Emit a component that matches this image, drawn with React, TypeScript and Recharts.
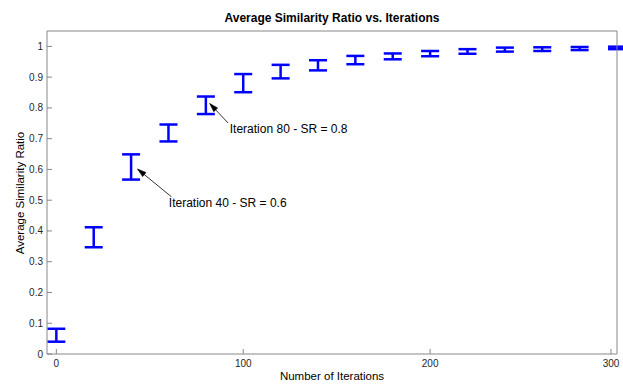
import { ScatterChart, Scatter, XAxis, YAxis, ErrorBar, ReferenceLine, ReferenceDot } from 'recharts'

const ITERATIONS = [0, 20, 40, 60, 80, 100, 120, 140, 160, 180, 200, 220, 240, 260, 280, 300]
const SR_LOW = [0.040, 0.347, 0.567, 0.691, 0.780, 0.851, 0.896, 0.922, 0.942, 0.958, 0.968, 0.976, 0.983, 0.985, 0.988, 0.991]
const SR_HIGH = [0.082, 0.412, 0.649, 0.746, 0.837, 0.910, 0.940, 0.955, 0.969, 0.977, 0.985, 0.991, 0.996, 0.997, 0.998, 0.999]

const X_TICKS = [0, 100, 200, 300]
const Y_TICKS = [0, 0.1, 0.2, 0.3, 0.4, 0.5, 0.6, 0.7, 0.8, 0.9, 1]

// annotations, in data units
const NOTE_LABELS = ['Iteration 40 - SR = 0.6', 'Iteration 80 - SR = 0.8']
const NOTE_TIP = [{ x: 43.5, y: 0.601 }, { x: 82.1, y: 0.814 }]
const NOTE_TAIL = [{ x: 61.6, y: 0.511 }, { x: 91.9, y: 0.751 }]
const NOTE_TEXT = [{ x: 60.2, y: 0.49 }, { x: 92.8, y: 0.7305 }]

const BLUE = '#0000ff'
const AXIS = '#888888'
const INK = '#262626'
const FONT = '"Liberation Sans", Arial, sans-serif'

const W = 623
const H = 385

const data = ITERATIONS.map((it, i) => {
  const mid = (SR_LOW[i] + SR_HIGH[i]) / 2
  return { it, sr: mid, err: [mid - SR_LOW[i], SR_HIGH[i] - mid] }
})

const LeftTick = (props: any) => {
  const { x, y, payload } = props
  return (
    <g>
      <line x1={x + 4} x2={x + 9} y1={y} y2={y} stroke={AXIS} />
      <text x={x} y={y} dy="0.35em" textAnchor="end" fontSize={10} fontFamily={FONT} fill={INK}>
        {String(payload.value)}
      </text>
    </g>
  )
}

const BottomTick = (props: any) => {
  const { x, y, payload } = props
  return (
    <g>
      <line x1={x} x2={x} y1={y - 6} y2={y - 11} stroke={AXIS} />
      <text x={x} y={y} dy="0.71em" textAnchor="middle" fontSize={10} fontFamily={FONT} fill={INK}>
        {String(payload.value)}
      </text>
    </g>
  )
}

const Arrow = (props: any) => {
  const { x1, y1, x2, y2 } = props
  const a = Math.atan2(y2 - y1, x2 - x1)
  const len = 9
  const spread = 0.3
  const p1 = [x2 - len * Math.cos(a - spread), y2 - len * Math.sin(a - spread)]
  const p2 = [x2 - len * Math.cos(a + spread), y2 - len * Math.sin(a + spread)]
  return (
    <g>
      <line x1={x1} y1={y1} x2={x2} y2={y2} stroke="#000" strokeWidth={0.8} />
      <path d={`M${x2},${y2} L${p1[0]},${p1[1]} L${p2[0]},${p2[1]} Z`} fill="#000" stroke="#000" strokeWidth={0.6} />
    </g>
  )
}

export default function App() {
  return (
    <div style={{ position: 'absolute', left: 0, top: 0, width: W, height: H, background: '#fff', fontFamily: FONT }}>
      <div style={{ position: 'absolute', left: 47, width: 570, top: 11, textAlign: 'center', fontSize: 12, fontWeight: 'bold', lineHeight: '14px', color: '#000' }}>
        Average Similarity Ratio vs. Iterations
      </div>
      <div style={{ position: 'absolute', left: 47, width: 570, top: 369, textAlign: 'center', fontSize: 11.5, lineHeight: '14px', color: '#000' }}>
        Number of Iterations
      </div>
      <div style={{ position: 'absolute', left: 20, top: 193, width: 0, height: 0 }}>
        <div style={{ position: 'absolute', left: -100, top: -7, width: 200, textAlign: 'center', transform: 'rotate(-90deg)', fontSize: 11.5, lineHeight: '14px', color: '#000', whiteSpace: 'nowrap' }}>
          Average Similarity Ratio
        </div>
      </div>
      <ScatterChart width={W} height={H} margin={{ top: 31, right: 6, bottom: 0, left: 0 }}>
        <XAxis
          xAxisId="b"
          type="number"
          dataKey="it"
          domain={[-5, 300]}
          ticks={X_TICKS}
          height={31}
          tickSize={0}
          tickMargin={6}
          tickLine={false}
          tick={BottomTick}
          stroke={AXIS}
          allowDataOverflow
        />
        <XAxis
          xAxisId="t"
          orientation="top"
          type="number"
          domain={[-5, 300]}
          ticks={X_TICKS}
          mirror
          tick={false}
          tickSize={5}
          stroke={AXIS}
          allowDataOverflow
        />
        <YAxis
          yAxisId="l"
          type="number"
          dataKey="sr"
          domain={[0, 1.05]}
          ticks={Y_TICKS}
          width={47}
          tickSize={0}
          tickMargin={4}
          tickLine={false}
          tick={LeftTick}
          stroke={AXIS}
          allowDataOverflow
        />
        <YAxis
          yAxisId="r"
          orientation="right"
          type="number"
          domain={[0, 1.05]}
          ticks={Y_TICKS}
          mirror
          tick={false}
          tickSize={5}
          stroke={AXIS}
          allowDataOverflow
        />
        <Scatter
          data={data}
          xAxisId="b"
          yAxisId="l"
          shape={() => <g />}
          legendType="none"
          isAnimationActive={false}
        >
          <ErrorBar dataKey="err" direction="y" width={9} stroke={BLUE} strokeWidth={2.5} isAnimationActive={false} />
        </Scatter>
        <Scatter
          data={data}
          xAxisId="t"
          yAxisId="r"
          dataKey="sr"
          shape={() => <g />}
          legendType="none"
          isAnimationActive={false}
        />
        {NOTE_LABELS.map((label, i) => (
          <ReferenceLine
            key={'a' + i}
            xAxisId="b"
            yAxisId="l"
            segment={[NOTE_TAIL[i], NOTE_TIP[i]]}
            ifOverflow="visible"
            shape={Arrow}
          />
        ))}
        {NOTE_LABELS.map((label, i) => (
          <ReferenceDot
            key={'t' + i}
            xAxisId="b"
            yAxisId="l"
            x={NOTE_TEXT[i].x}
            y={NOTE_TEXT[i].y}
            r={0}
            ifOverflow="visible"
            shape={(p: any) => (
              <text x={p.cx} y={p.cy} dy="0.35em" fontSize={12} fontFamily={FONT} fill="#000">
                {label}
              </text>
            )}
          />
        ))}
      </ScatterChart>
    </div>
  )
}
